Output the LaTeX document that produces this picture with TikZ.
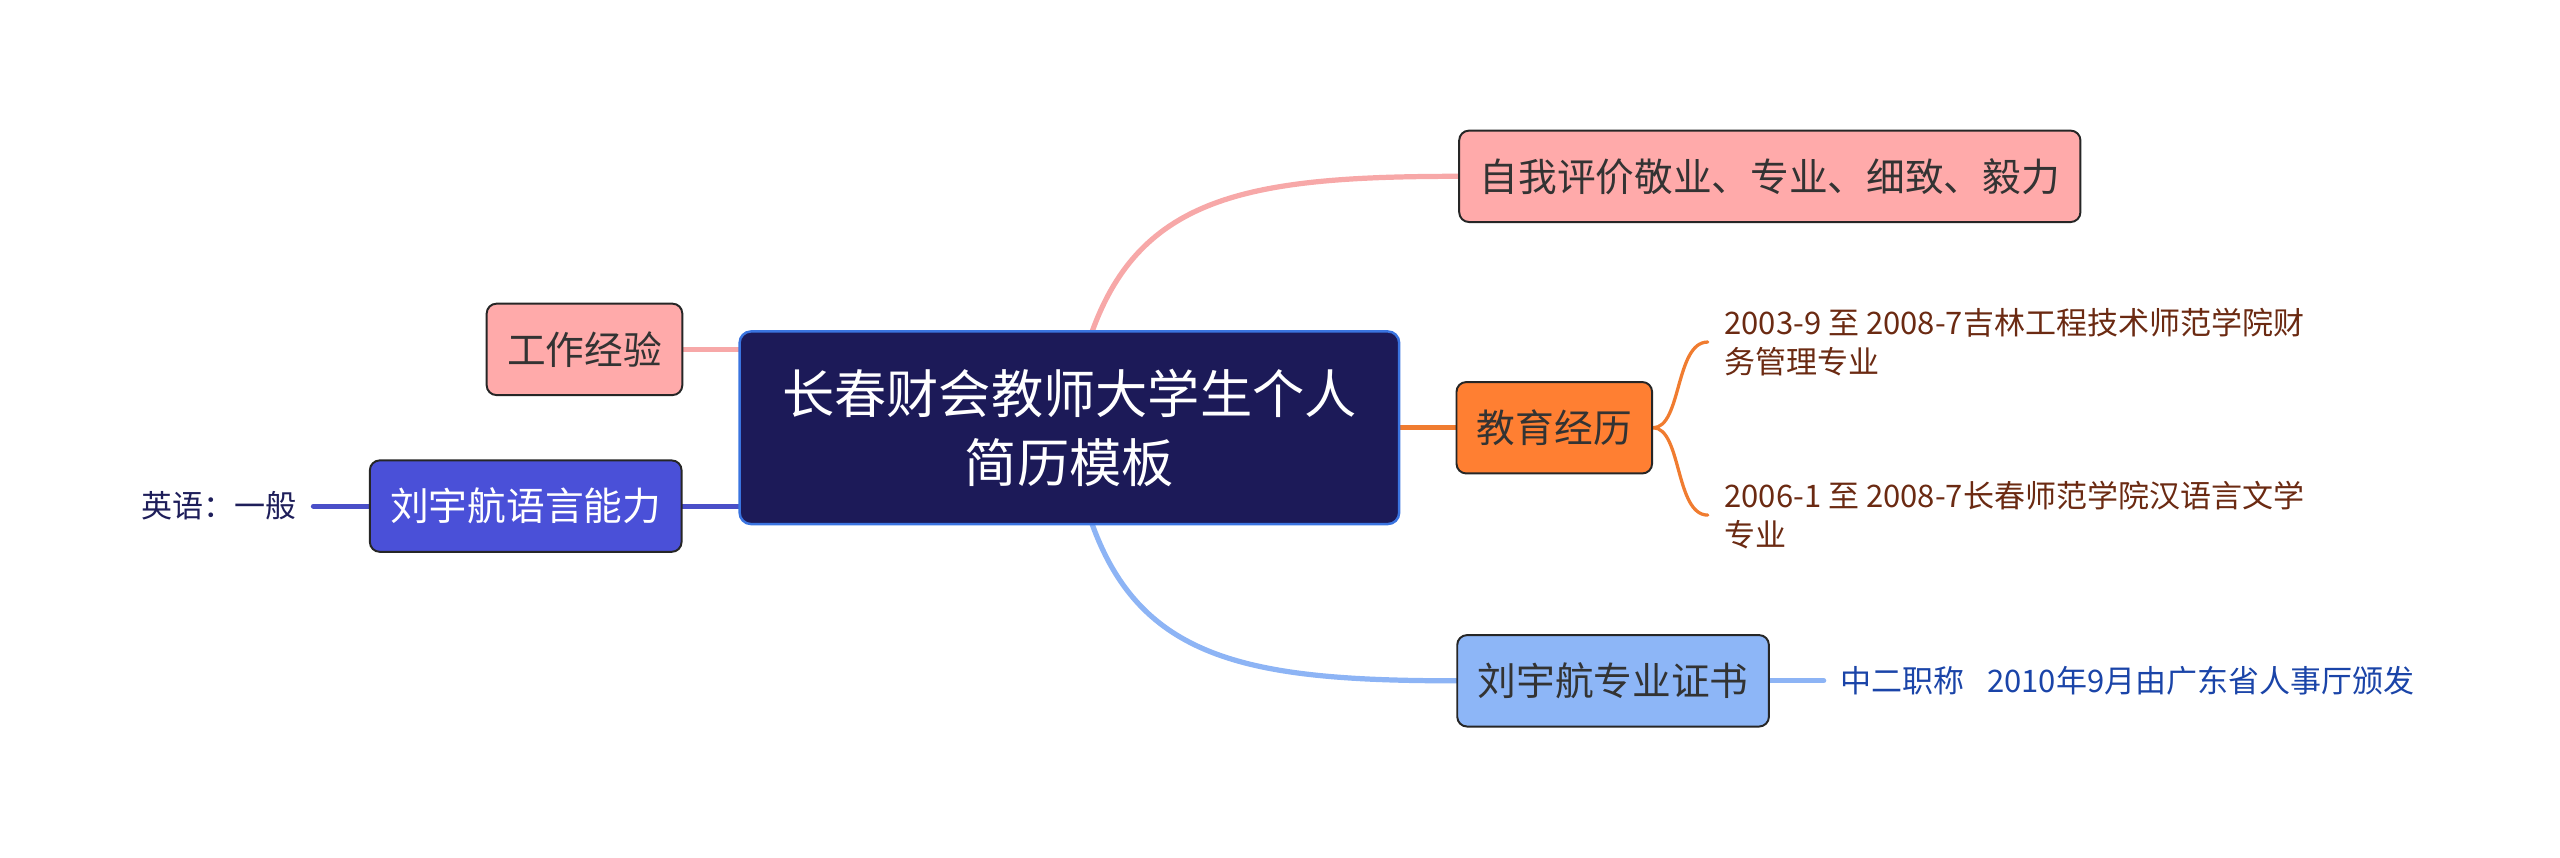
\documentclass[tikz,border=0pt]{standalone}
\usepackage{fontspec}
\setmainfont{Noto Sans CJK SC}
\usepackage{tikz}
\usetikzlibrary{positioning,backgrounds,calc}
\definecolor{mRoot}{RGB}{28,26,88}
\definecolor{mRootLine}{RGB}{58,116,224}
\definecolor{mPink}{RGB}{255,170,170}
\definecolor{mPinkLine}{RGB}{247,168,168}
\definecolor{mOrange}{RGB}{255,127,50}
\definecolor{mOrangeLine}{RGB}{240,124,48}
\definecolor{mSky}{RGB}{141,182,247}
\definecolor{mSkyLine}{RGB}{141,180,245}
\definecolor{mViolet}{RGB}{74,80,216}
\definecolor{mVioletLine}{RGB}{74,79,200}
\definecolor{mBrown}{RGB}{107,42,18}
\definecolor{mNavy}{RGB}{26,68,168}
\definecolor{mInk}{RGB}{30,30,90}
\tikzset{
  root/.style={rectangle, rounded corners=7pt, draw=mRootLine, fill=mRoot,
               line width=1.5pt, minimum width=404pt, minimum height=118pt,
               align=center, text=white, font=\fontsize{32pt}{42pt}\selectfont},
  topic/.style={rectangle, rounded corners=6pt, draw=black!85, line width=1.2pt,
                minimum height=56pt, inner xsep=12.5pt, align=center,
                text=black!80, font=\fontsize{23.7pt}{28pt}\selectfont},
  leaf/.style={inner xsep=10pt, inner ysep=2pt, align=left,
               font=\fontsize{19pt}{23.5pt}\selectfont},
  link/.style={line width=3.2pt, line cap=round},
  twig/.style={line width=2pt, line cap=round},
}

\begin{document}
\begin{tikzpicture}[x=1pt,y=1pt]
  \useasboundingbox (0,0) rectangle (1568,525);

  \node[root] (root) at (655,263) {长春财会教师大学生个人\\简历模板};

  \node[topic, fill=mPink] (self) at (1084,417) {自我评价敬业、专业、细致、毅力};
  \node[topic, fill=mOrange] (edu) at (952,263) {教育经历};
  \node[topic, fill=mSky] (cert) at (988,108) {刘宇航专业证书};
  \node[topic, fill=mPink] (work) at (358,311) {工作经验};
  \node[topic, fill=mViolet, text=white] (lang) at (322,215) {刘宇航语言能力};

  \node[leaf, text=mBrown, anchor=west] (edua) at (1046,315.5)
       {2003-9 至 2008-7吉林工程技术师范学院财\\务管理专业};
  \node[leaf, text=mBrown, anchor=west] (edub) at (1046,209.5)
       {2006-1 至 2008-7长春师范学院汉语言文学\\专业};
  \node[leaf, text=mNavy, anchor=west] (certa) at (1117,108)
       {中二职称\hspace{14pt}2010年9月由广东省人事厅颁发};
  \node[leaf, text=mInk, anchor=east] (enga) at (192,215) {英语：一般};

  % connectors behind the boxes
  \begin{scope}[on background layer]
    \draw[link, mPinkLine] (root.center) .. controls (675,400) and (740,417) .. (self.west);
    \draw[link, mSkyLine] (root.center) .. controls (675,126) and (740,108) .. (cert.west);
    \draw[link, mOrangeLine] (root.east) -- (edu.west);
    \draw[link, mPinkLine] (work.east) -- (work.east -| root.west);
    \draw[link, mVioletLine] (lang.east) -- (lang.east -| root.west);
    \draw[link, mVioletLine] (lang.west) -- (enga.east);
    \draw[link, mSkyLine] (cert.east) -- (certa.west);
    \draw[twig, mOrangeLine] (edu.east) .. controls (1030,263) and (1026,315.5) .. (edua.west);
    \draw[twig, mOrangeLine] (edu.east) .. controls (1030,263) and (1026,209.5) .. (edub.west);
  \end{scope}
\end{tikzpicture}
\end{document}
